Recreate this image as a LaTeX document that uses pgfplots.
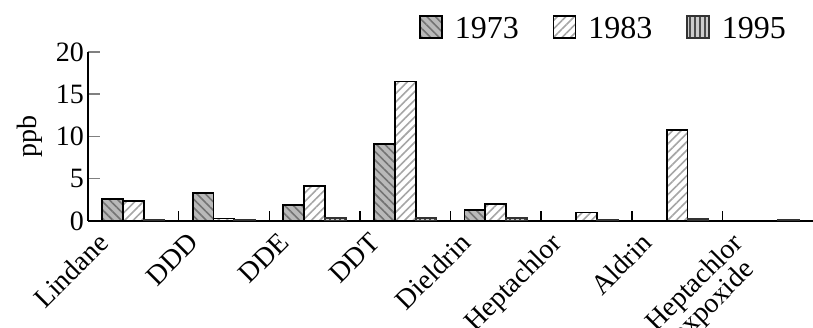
\documentclass[border=0pt]{standalone}
\usepackage{fontspec}
\setmainfont{Liberation Serif}
\usepackage{pgfplots}
\pgfplotsset{compat=1.18}
\usetikzlibrary{patterns.meta}
\newcommand{\bigf}{\fontsize{28}{26}\selectfont}
\newcommand{\legf}{\fontsize{32}{32}\selectfont}
\begin{document}
\begin{tikzpicture}
\useasboundingbox (-88pt,-107pt) rectangle (725pt,221pt);
\begin{axis}[
  at={(0,0)}, anchor=south west,
  scale only axis,
  width=725pt, height=169pt,
  xmin=-0.5, xmax=7.5, ymin=0, ymax=20,
  axis x line=bottom, axis y line=left,
  axis line style={-, line width=1.5pt},
  ytick={0,5,10,15,20},
  major tick length=12pt,
  tick align=inside,
  ytick style={line width=1.5pt},
  xtick={0,...,7},
  xticklabels={Lindane,DDD,DDE,DDT,Dieldrin,Heptachlor,Aldrin,{Heptachlor\\expoxide}},
  major x tick style={draw=none},
  minor xtick={0.5,1.5,...,6.5},
  minor tick length=10pt,
  minor x tick style={line width=1.5pt, draw=black},
  xticklabel style={xshift=-37pt, yshift=-10pt, rotate=45, anchor=north east, align=center, font=\bigf, inner sep=0pt},
  yticklabel style={font=\bigf, inner sep=1pt, xshift=-3pt},
  /pgf/number format/assume math mode=true,
  ylabel={ppb}, ylabel style={font=\bigf, at={(axis description cs:-0.08,0.5)}, anchor=center},
  bar width=0.23,
  legend style={at={(0.963,1.219)}, anchor=north east, draw=none, fill=none, font=\legf, legend columns=3,
     inner sep=0pt, nodes={inner sep=0pt},
     /tikz/every odd column/.append style={column sep=12pt},
     /tikz/every even column/.append style={column sep=34pt}},
  legend image code/.code={\draw[#1, line width=1.5pt] (0pt,-9pt) rectangle (22pt,13pt);},
]
\addplot[ybar, bar shift=-0.23, draw=black, line width=1.8pt, fill=gray!55,
  postaction={pattern={Lines[angle=-45,distance=6pt,line width=1.6pt]}, pattern color=black!55}]
  coordinates {(0,2.6) (1,3.3) (2,1.9) (3,9.1) (4,1.3) (5,0) (6,0) (7,0)};
\addlegendentry{1973}
\addplot[ybar, bar shift=0, draw=black, line width=1.8pt, fill=white,
  postaction={pattern={Lines[angle=45,distance=6pt,line width=1.6pt]}, pattern color=black!35}]
  coordinates {(0,2.4) (1,0.3) (2,4.1) (3,16.5) (4,2.0) (5,1.0) (6,10.8) (7,0)};
\addlegendentry{1983}
\addplot[ybar, bar shift=0.23, draw=black!80, line width=1.8pt, fill=gray!40,
  postaction={pattern={Lines[angle=90,distance=5pt,line width=1.6pt]}, pattern color=black!70}]
  coordinates {(0,0.1) (1,0.15) (2,0.4) (3,0.35) (4,0.35) (5,0.1) (6,0.2) (7,0.1)};
\addlegendentry{1995}
\end{axis}
\end{tikzpicture}
\end{document}
